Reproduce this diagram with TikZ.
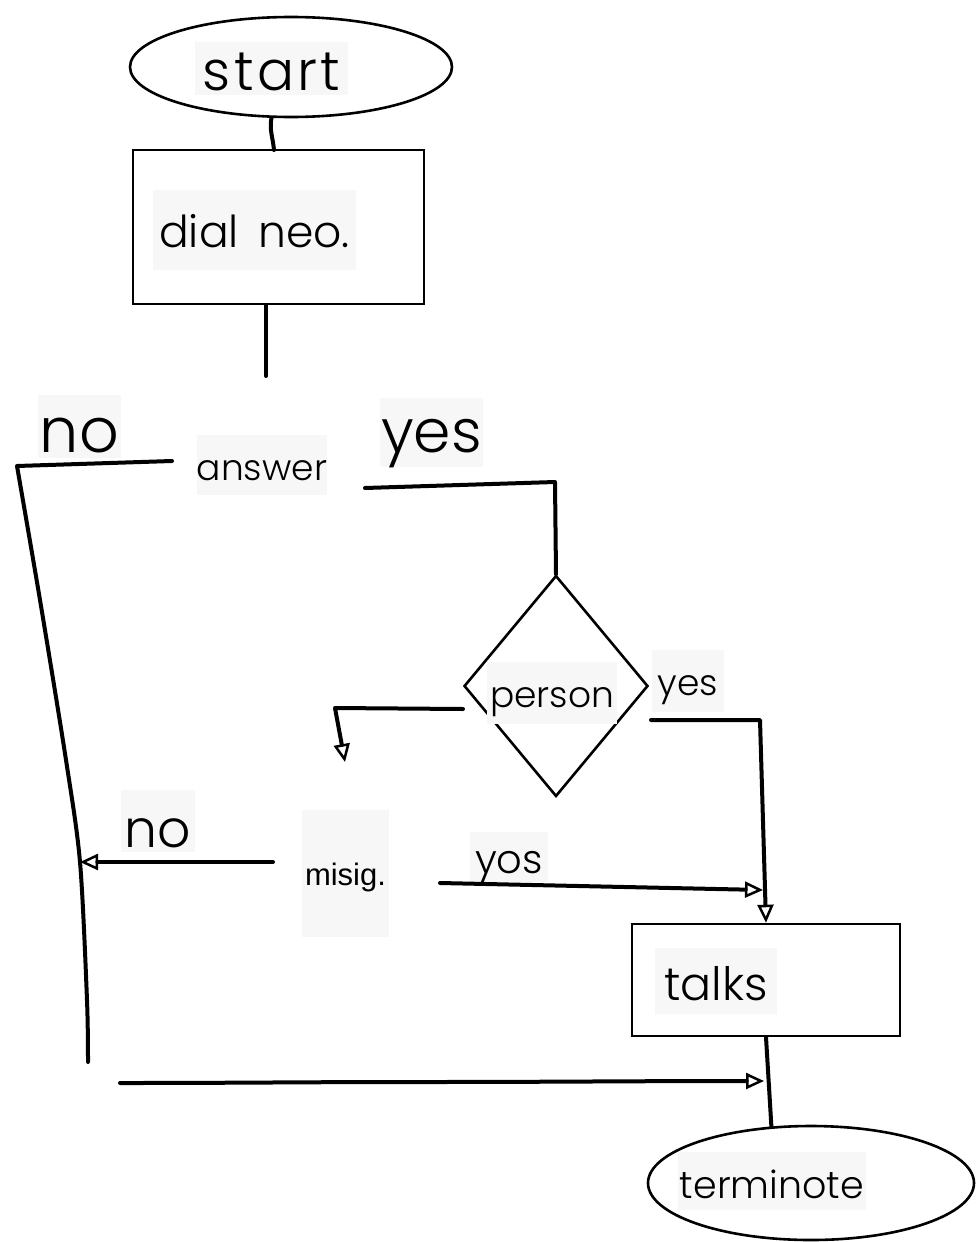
\documentclass[tikz,border=0pt]{standalone}
\usepackage{fontspec}
\setmainfont{Poppins}[UprightFont={* Light}]
\newfontfamily\misigfont{Liberation Sans}
\usetikzlibrary{shapes.geometric,arrows.meta}
\definecolor{labelgray}{HTML}{F7F7F7}
\newcommand{\lsize}[1]{\fontsize{#1}{#1}\selectfont}

\begin{document}
\begin{tikzpicture}[x=1pt,y=-1pt]
  \tikzset{
    lbl/.style={fill=labelgray,inner sep=0pt,anchor=center,text depth=0pt},
    lblbase/.style={text height=#1},
    shapeline/.style={draw,line width=2.6pt},
    conn/.style={line width=4pt,line join=round,line cap=round},
    arr/.style={-{Triangle[open,length=18pt,width=16pt,line width=2.5pt]}}
  }
  \useasboundingbox (0,0) rectangle (976,1242);
  % shapes
  \node[ellipse,shapeline,minimum width=322pt,minimum height=100pt] (start) at (291,67) {};
  \node[rectangle,shapeline,minimum width=291pt,minimum height=154pt] (dial) at (278.5,227) {};
  \node[diamond,shapeline,minimum width=184pt,minimum height=221pt,inner sep=0pt] (person) at (556,686) {};
  \node[rectangle,shapeline,minimum width=268pt,minimum height=112pt] (talks) at (766,980) {};
  \node[ellipse,shapeline,minimum width=326pt,minimum height=114pt] (term) at (811,1183) {};
  % labels
  \node[lbl,lblbase=43pt,minimum width=153pt,minimum height=53pt,font=\lsize{55}\addfontfeature{LetterSpace=6}] (startlbl) at (271.5,68.5) {start};
  \node[lbl,lblbase=34pt,minimum width=203pt,minimum height=80pt,font=\lsize{44}] (diallbl) at (254.5,230) {dial\, neo.};
  \node[lbl,lblbase=30pt,minimum width=128pt,minimum height=60pt,font=\lsize{36}] (answerlbl) at (262,465) {answer};
  \node[lbl,lblbase=51pt,minimum width=83pt,minimum height=63pt,font=\lsize{62}] (nolbl) at (79.5,426.5) {no};
  \node[lbl,lblbase=39pt,minimum width=103pt,minimum height=69pt,font=\lsize{60}] (yeslbl) at (431.5,432.5) {yes};
  \node[lbl,lblbase=28pt,minimum width=130pt,minimum height=62pt,font=\lsize{36}] (personlbl) at (552,693) {person};
  \node[lbl,lblbase=28pt,minimum width=72pt,minimum height=62pt,font=\lsize{36}] (yespers) at (688,681) {yes};
  \node[lbl,lblbase=23pt,minimum width=87pt,minimum height=127pt,font=\misigfont\lsize{31}] (misiglbl) at (345.5,873.5) {misig.};
  \node[lbl,lblbase=52pt,minimum width=74pt,minimum height=62pt,font=\lsize{52}] (nomisig) at (158,821) {no};
  \node[lbl,lblbase=32pt,minimum width=78pt,minimum height=50pt,font=\lsize{40}] (yosmisig) at (509,857) {yos};
  \node[lbl,lblbase=38pt,minimum width=122pt,minimum height=66pt,font=\lsize{46}] (talkslbl) at (716,981) {talks};
  \node[lbl,lblbase=34pt,minimum width=188pt,minimum height=58pt,font=\lsize{38}] (termlbl) at (772,1181) {terminote};
  % free ends of the connectors
  \coordinate (ansin) at (266,376);
  \coordinate (ansno) at (172,461);
  \coordinate (ansyes) at (365,488);
  \coordinate (persno) at (463,709);
  \coordinate (persyes) at (651,720);
  \coordinate (misigin) at (345,762);
  \coordinate (misigno) at (273,862);
  \coordinate (misigyes) at (440,883);
  \coordinate (leftjoin) at (80,862);
  \coordinate (talksjoin) at (763,890);
  \coordinate (termjoin) at (764,1081);
  % connectors
  \draw[conn] (start.249) to[out=-100,in=95] (274,150);
  \draw[conn] (dial.south -| ansin) -- (ansin);
  \draw[conn] (ansno) -- (17,466) plot[smooth] coordinates {(17,466) (40,600) (66,760) (80,862) (87,1000) (88,1062)};
  \draw[conn,arr] (120,1083) to[out=0,in=180] (420,1082) to[out=0,in=180] (termjoin);
  \draw[conn] (ansyes) -- (555,482) -- (person.north);
  \draw[conn,arr] (persno) -- (335,708) -- (misigin);
  \draw[conn,arr] (persyes) -- (760,720) -- (talks.north);
  \draw[conn,arr] (misigno) -- (leftjoin);
  \draw[conn,arr] (misigyes) -- (talksjoin);
  \draw[conn] (talks.south) -- (term.125);
\end{tikzpicture}
\end{document}
